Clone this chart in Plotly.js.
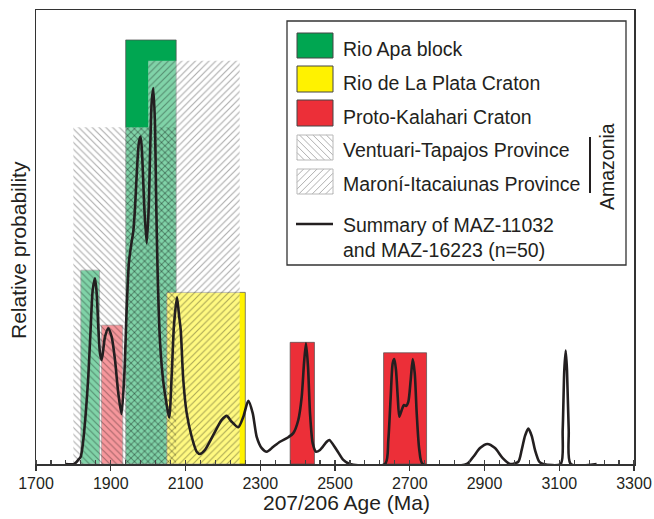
<!DOCTYPE html>
<html><head><meta charset="utf-8">
<script src="https://cdn.plot.ly/plotly-3.0.1.min.js"></script>
<style>html,body{margin:0;padding:0;background:#fff}</style>
</head><body><div id="chart" style="width:654px;height:519px"></div>
<script>
// Summary probability curve (207/206 age in Ma, relative probability)
const ageMa = [1778,1802,1813,1819.6,1826.6,1833.8,1839.9,1846.4,1851.7,1857.9,1862.4,1866.7,1871.2,1875.8,1884.6,1893.4,1902.5,1911.4,1920.2,1928.8,1936.3,1942.7,1948.8,1956.1,1960.3,1964.9,1969.4,1975.6,1980.1,1984.4,1989.8,1996.2,2001.5,2005.0,2009.6,2013.8,2018.4,2021.1,2025.6,2031.8,2040.6,2049.7,2056.4,2063.1,2069.2,2077.3,2082.6,2087.2,2094.1,2103.2,2116.6,2130.0,2138.8,2152.2,2174.4,2196.9,2210.2,2223.6,2241.3,2254.7,2268.0,2279.8,2290.5,2303.9,2317.3,2334.9,2352.8,2375.1,2388.4,2401.8,2410.9,2417.1,2422.4,2427.8,2433.1,2440.3,2449.2,2459.9,2477.8,2484.8,2504.5,2522.2,2540,2634,2642.6,2649,2654.4,2658.7,2663.2,2667.8,2672,2678.5,2684.6,2690,2696.1,2702.5,2707.9,2713.3,2718.6,2725.6,2734.6,2852.4,2870,2888,2907.5,2928.1,2948.7,2968.2,2990.4,2999.5,3008.4,3017.2,3026.3,3035.1,3046.6,3057.4,3103.9,3109.2,3113.5,3117.3,3120.7,3125.3,3130.6,3200];
const relProb = [0,0,0.9,1.6,5.3,11.9,19.2,30.2,38.3,40.9,37.6,30.2,24.4,22.9,28.0,29.9,28.0,22.9,15.6,11.0,19.6,34.4,44.6,49.0,51.2,56.4,63.7,71.0,72.1,67.4,56.4,48.6,56.4,67.4,79.8,82.8,74.7,60.0,41.6,26.9,18.1,13.0,10.2,19.6,30.6,36.7,32.8,29.5,18.5,11.2,6.0,2.7,2.2,3.1,6.4,9.7,10.6,9.3,8.1,10.4,13.9,11.2,6.0,3.5,2.7,3.8,4.9,5.9,6.8,9.7,14.8,22.2,26.6,21.4,11.2,4.6,2.7,3.1,4.9,5.3,3.1,0.9,0,0,5.3,14.8,22.2,23.1,20.7,14.8,10.4,11.9,13.0,12.8,13.7,18.5,23.1,20.0,11.2,3.1,0,0,1.6,3.5,4.4,3.5,1.3,0,0.5,3.1,6.2,7.8,6.2,3.1,0.5,0,0,7.5,20.7,25.0,20.7,7.5,0,0];

// Age ranges of the crustal domains
const rioApaStart = [1820, 1940], rioApaEnd = [1870, 2075], rioApaTop = [42.7, 93.4];
const laPlataStart = [2050], laPlataEnd = [2260], laPlataTop = [37.8];
const kalahariStart = [1875, 2380, 2630], kalahariEnd = [1932, 2445, 2745], kalahariTop = [30.6, 26.8, 24.5];
const ventuariStart = [1800], ventuariEnd = [2075], ventuariTop = [74.2];
const maroniStart = [1940, 2000], maroniEnd = [2000, 2245], maroniTop = [74.2, 88.8];

const xTickVals = [1700,1900,2100,2300,2500,2700,2900,3100,3300];
const legendLabels = ['Rio Apa block','Rio de La Plata Craton','Proto-Kalahari Craton','Ventuari-Tapajos Province','Maroní-Itacaiunas Province','Summary of MAZ-11032<br>and MAZ-16223 (n=50)'];

const INK = '#231f20';
const FONT = 'Liberation Sans, Arial, sans-serif';
const GREEN = '#00a651', YELLOW = '#fff200', RED = '#ec2f38';

function boxTrace(st, en, top, color) {
  return {
    type: 'bar', x: st.map((s,i)=>(s+en[i])/2), width: st.map((s,i)=>en[i]-s),
    y: top, base: 0, hoverinfo: 'skip', showlegend: false,
    marker: {color: color, line: {width: 1, color: 'rgba(80,80,80,0.7)'}}
  };
}
function hatchTrace(st, en, top, shape) {
  return {
    type: 'bar', x: st.map((s,i)=>(s+en[i])/2), width: st.map((s,i)=>en[i]-s),
    y: top, base: 0, hoverinfo: 'skip', showlegend: false,
    marker: {color: 'rgba(0,0,0,0)', line: {width: 0},
      pattern: {shape: shape, fgcolor: '#000', fgopacity: 0.32, size: 4.8, solidity: 0.24, fillmode: 'replace'}}
  };
}

// white veil over the union of the hatched provinces
const hatchBoxes = [];
ventuariStart.forEach((s,i)=>hatchBoxes.push([s, ventuariEnd[i], ventuariTop[i]]));
maroniStart.forEach((s,i)=>hatchBoxes.push([s, maroniEnd[i], maroniTop[i]]));
const edges = [...new Set(hatchBoxes.flatMap(b=>[b[0],b[1]]))].sort((a,b)=>a-b);
const segs = [];
for (let i=0;i<edges.length-1;i++){
  const a=edges[i], b=edges[i+1]; let h=0;
  hatchBoxes.forEach(bx=>{ if (bx[0]<=a && bx[1]>=b) h=Math.max(h,bx[2]); });
  if (h>0) {
    const last = segs[segs.length-1];
    if (last && last[1]===a && last[2]===h) last[1]=b; else segs.push([a,b,h]);
  }
}
const veil = {
  type:'bar', x: segs.map(s=>(s[0]+s[1])/2), width: segs.map(s=>s[1]-s[0]), y: segs.map(s=>s[2]),
  base:0, hoverinfo:'skip', showlegend:false, marker:{color:'rgba(255,255,255,0.5)', line:{width:0}}
};

const traces = [
  boxTrace(rioApaStart, rioApaEnd, rioApaTop, GREEN),
  boxTrace(kalahariStart, kalahariEnd, kalahariTop, RED),
  boxTrace(laPlataStart, laPlataEnd, laPlataTop, YELLOW),
  veil,
  hatchTrace(ventuariStart, ventuariEnd, ventuariTop, '\\'),
  hatchTrace(maroniStart, maroniEnd, maroniTop, '/'),
  {type:'scatter', mode:'lines', x: ageMa, y: relProb, hoverinfo:'skip', showlegend:false,
   line:{color: INK, width: 2.6, shape:'spline', smoothing: 0.7}}
];

// pixel helpers for the hand-built legend (plot area: x 36..634, y 10..464)
const PX = p => (p-36)/598, PY = p => (464-p)/454;
const shapes = [];
const annotations = [];
shapes.push({type:'rect', xref:'paper', yref:'paper', x0:PX(287), x1:PX(626), y0:PY(265), y1:PY(21),
  fillcolor:'#fff', line:{color:'#333', width:1.3}});
const rows = [[33,58],[66,92],[100,126],[135,160],[169,194]];
const sw = [GREEN, YELLOW, RED];
rows.forEach((r,i)=>{
  if (i<3) {
    shapes.push({type:'rect', xref:'paper', yref:'paper', x0:PX(297), x1:PX(333), y0:PY(r[1]), y1:PY(r[0]),
      fillcolor: sw[i], line:{color:'#444', width:1}});
  } else {
    const x0=297, x1=333, y0=r[0], y1=r[1];
    let d = '';
    const step = 6.7;
    if (i===3) { // "\" lines : y - x = c
      for (let c = y0 - x1; c <= y1 - x0; c += step) {
        const xa = Math.max(x0, y0 - c), xb = Math.min(x1, y1 - c);
        if (xb > xa) d += `M${PX(xa)},${PY(xa+c)}L${PX(xb)},${PY(xb+c)}`;
      }
    } else { // "/" lines : x + y = c
      for (let c = x0 + y0; c <= x1 + y1; c += step) {
        const xa = Math.max(x0, c - y1), xb = Math.min(x1, c - y0);
        if (xb > xa) d += `M${PX(xa)},${PY(c-xa)}L${PX(xb)},${PY(c-xb)}`;
      }
    }
    shapes.push({type:'path', xref:'paper', yref:'paper', path:d, line:{color:'#b0b0b0', width:1}});
    shapes.push({type:'rect', xref:'paper', yref:'paper', x0:PX(x0), x1:PX(x1), y0:PY(y1), y1:PY(y0),
      line:{color:'#b8b8b8', width:1}});
  }
});
shapes.push({type:'line', xref:'paper', yref:'paper', x0:PX(296), x1:PX(333), y0:PY(224), y1:PY(224),
  line:{color:INK, width:2.6}});
shapes.push({type:'line', xref:'paper', yref:'paper', x0:PX(590), x1:PX(590), y0:PY(137), y1:PY(193),
  line:{color:INK, width:2}});
const textY = [49, 83, 117, 150, 183.5, 237];
legendLabels.forEach((t,i)=>{
  annotations.push({xref:'paper', yref:'paper', x:PX(341), y:PY(textY[i]), xanchor:'left', yanchor:'middle',
    text:t, showarrow:false, align:'left', font:{family:FONT, size:19.5, color:INK}});
});
annotations.push({xref:'paper', yref:'paper', x:PX(607), y:PY(167), xanchor:'center', yanchor:'middle',
  text:'Amazonia', textangle:-90, showarrow:false, font:{family:FONT, size:19.5, color:INK}});
annotations.push({xref:'paper', yref:'paper', x:PX(18), y:PY(250), xanchor:'center', yanchor:'middle',
  text:'Relative probability', textangle:-90, showarrow:false, font:{family:FONT, size:21, color:INK}});
annotations.push({xref:'paper', yref:'paper', x:PX(346.5), y:PY(503), xanchor:'center', yanchor:'middle',
  text:'207/206 Age (Ma)', showarrow:false, font:{family:FONT, size:21, color:INK}});

const layout = {
  width:654, height:519, margin:{l:36, r:20, t:10, b:55},
  paper_bgcolor:'#fff', plot_bgcolor:'#fff', barmode:'overlay', showlegend:false,
  font:{family:FONT, color:INK},
  xaxis:{range:[1700,3300], tickvals:xTickVals, ticktext:xTickVals.map(String),
    ticks:'outside', ticklen:5, tickwidth:1.3, tickcolor:'#333',
    minor:{dtick:40, tick0:1700, ticks:'inside', ticklen:4, tickwidth:1.1, tickcolor:'#444', showgrid:false},
    showline:true, linecolor:'#333', linewidth:1.5, mirror:true, showgrid:false, zeroline:false,
    tickfont:{family:FONT, size:16, color:INK}, ticklabelstandoff:-1},
  yaxis:{range:[0,100], showticklabels:false, ticks:'', showline:true, linecolor:'#333', linewidth:1.5,
    mirror:true, showgrid:false, zeroline:false},
  shapes:shapes, annotations:annotations
};
Plotly.newPlot('chart', traces, layout, {staticPlot:true, displayModeBar:false});
</script></body></html>
